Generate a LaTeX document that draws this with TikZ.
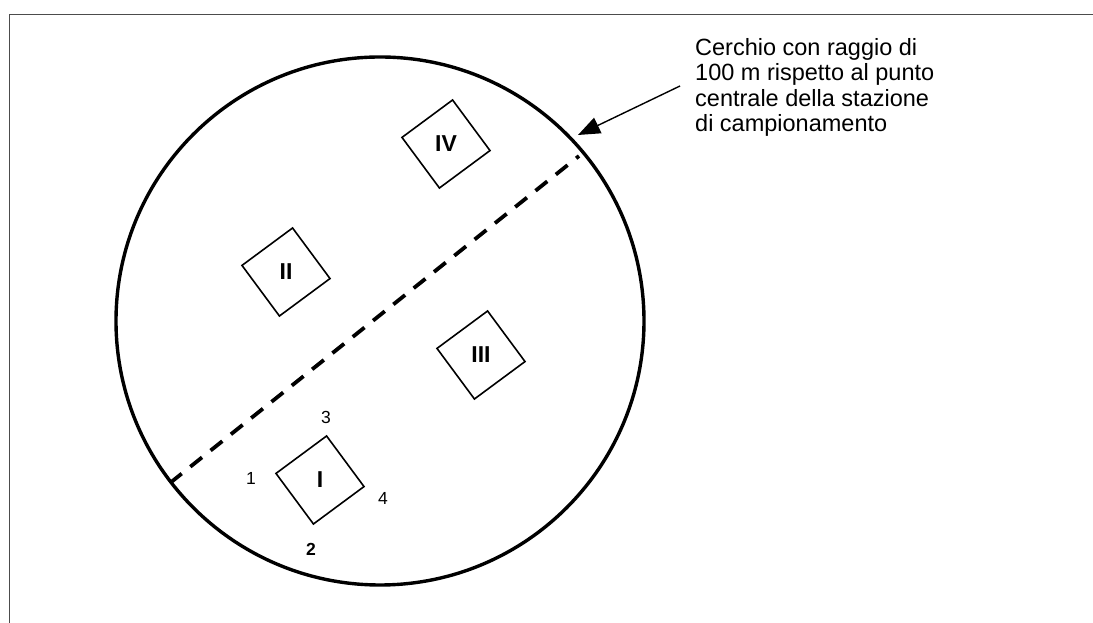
\documentclass[tikz,border=0pt]{standalone}
\usepackage{fontspec}
\setmainfont{Liberation Sans}
\usetikzlibrary{arrows.meta, positioning, shapes.geometric}
\tikzset{
        x=1pt, y=1pt, % one unit is one pixel of the sheet
        frame/.style={draw=black!70, line width=1pt}, % the cut page border
        ring/.style={draw, line width=3.4pt}, % the 100 m circle
        split/.style={draw, line width=3.8pt, dash pattern=on 15pt off 11pt},
        pointer/.style={-{Triangle[length=22pt,width=17pt]}, line width=1.4pt},
    }
\tikzstyle{plot}=[draw, regular polygon, regular polygon sides=4, shape border rotate=36.5,
    minimum size=89pt, inner sep=0pt, line width=1.6pt, font=\fontsize{23}{23}\selectfont\bfseries]
\tikzstyle{corner}=[inner sep=0pt, font=\fontsize{17.5}{17.5}\selectfont]

\begin{document}
\begin{tikzpicture}
    \useasboundingbox (0,0) rectangle (1093,623);
    \draw[frame] (9,0) -- (9,608.5) -- (1093,608.5);

    % station circle and dividing line
    \coordinate (centre) at (380,302);
    \draw[ring] (centre) circle (264);
    \coordinate (cutA) at (170,140);
    \coordinate (cutB) at (579,467);
    \draw[split] (cutA) -- (cutB);

    % sample plots
    \node[plot] (plotI) at (320,143) {I};
    \node[plot] (plotII) at (286,351) {II};
    \node[plot] (plotIII) at (481,268) {III};
    \node[plot] (plotIV) at (446,479) {IV};

    % corners of plot I
    \node[corner] (c1) at (251,145) {1};
    \node[corner, font=\fontsize{17.5}{17.5}\selectfont\bfseries] (c2) at (311,74) {2};
    \node[corner] (c3) at (326,206) {3};
    \node[corner] (c4) at (383,125) {4};

    % note
    \node[anchor=north west, inner sep=0pt, align=left,
        font=\fontsize{23.5}{25.5}\selectfont] (note) at (695,585)
        {Cerchio con raggio di\\100 m rispetto al punto\\centrale della stazione\\di campionamento};
    \coordinate (tail) at (680,537);
    \coordinate (tip) at (578,488);
    \draw[pointer] (tail) -- (tip);
\end{tikzpicture}
\end{document}
